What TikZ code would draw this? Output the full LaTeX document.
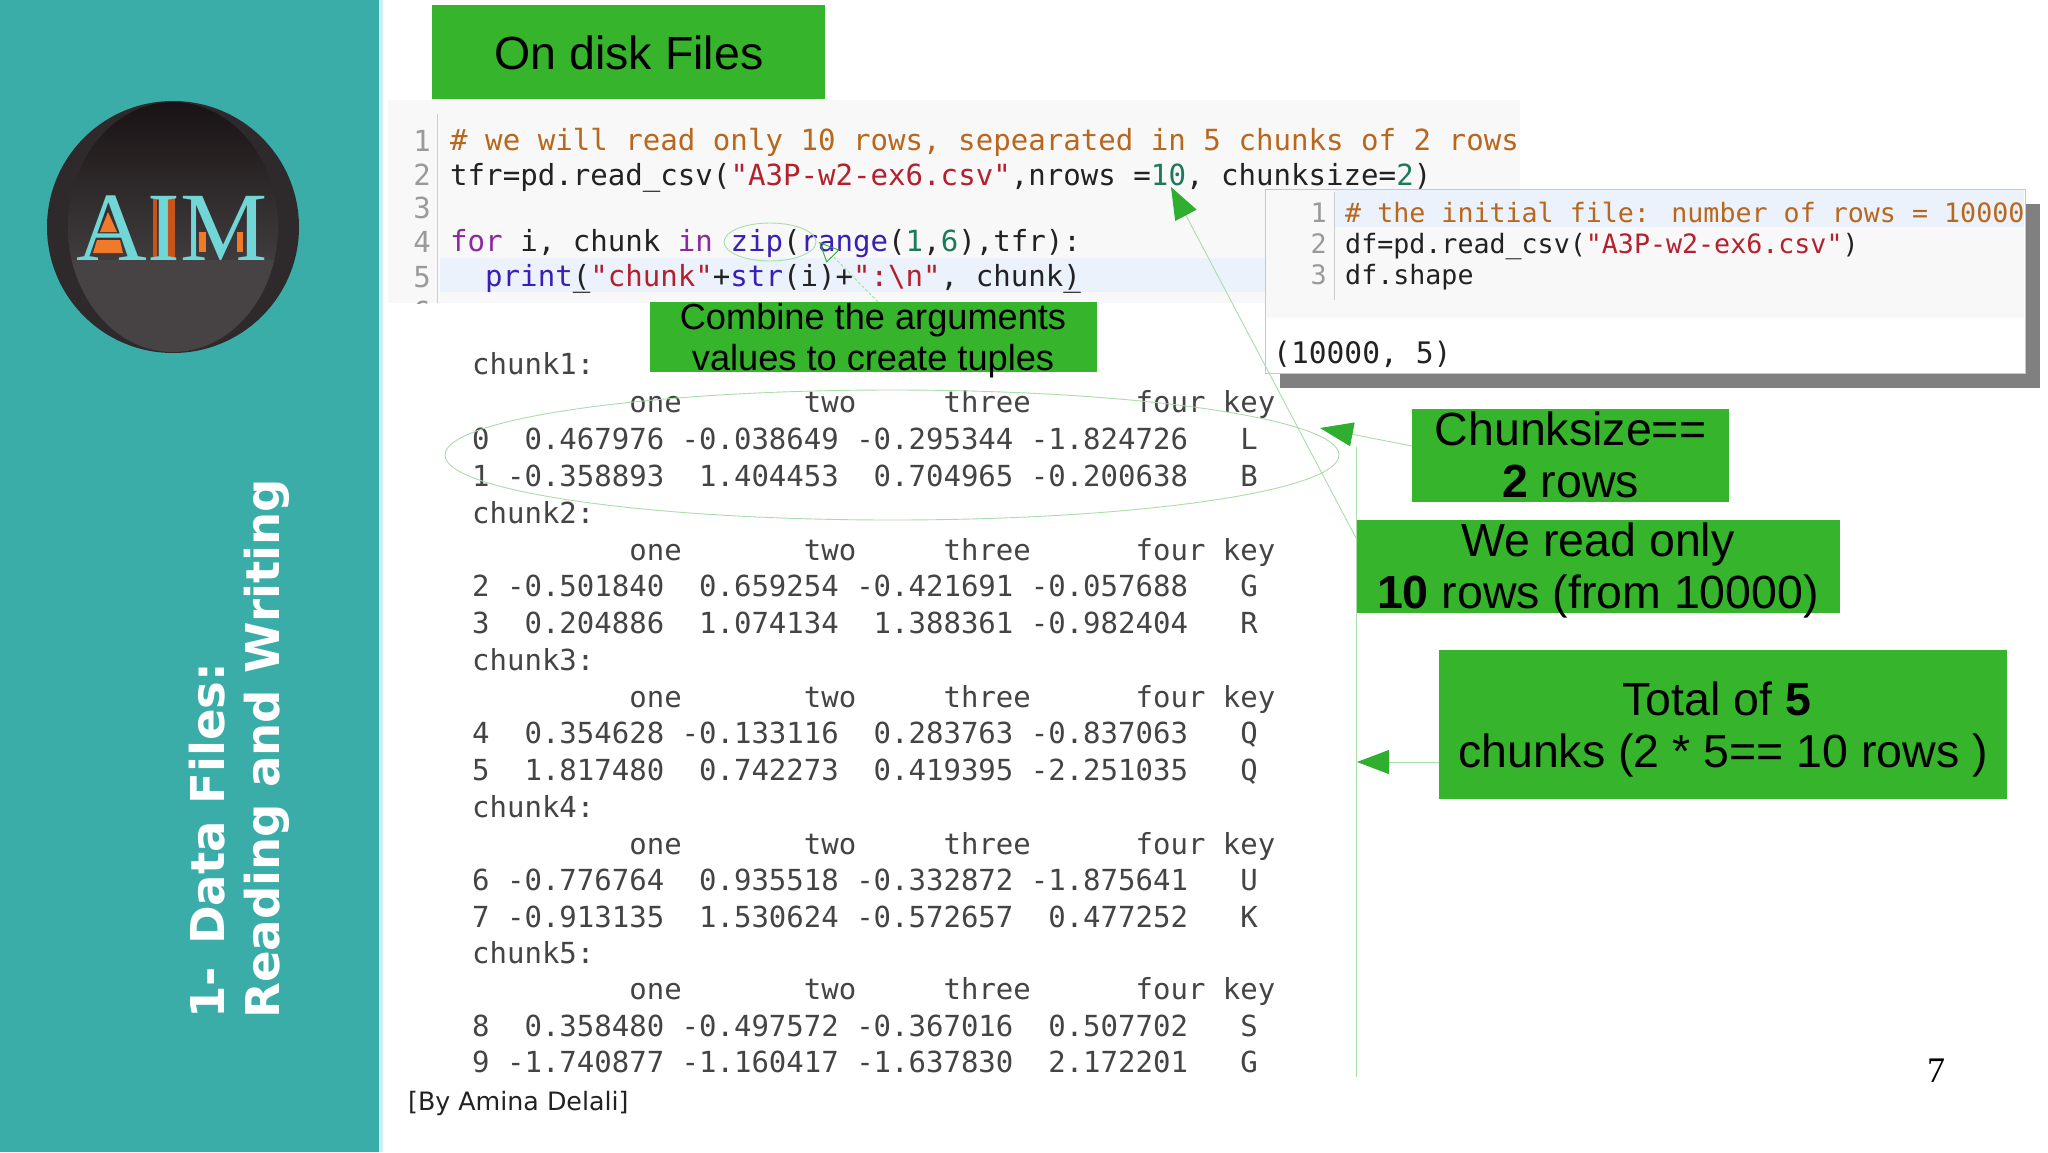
\documentclass[tikz,border=0pt]{standalone}
\usepackage{fontspec}
\usetikzlibrary{arrows.meta}
\setmainfont{Liberation Sans}
\newfontfamily\dvsans{DejaVu Sans}
\newfontfamily\dvmono{DejaVu Sans Mono}
\newfontfamily\lserif{Liberation Serif}
\definecolor{teal1}{HTML}{3AADA8}
\definecolor{strip}{HTML}{CDEFEF}
\definecolor{boxgreen}{HTML}{35B42C}
\definecolor{tipgreen}{HTML}{2FAE2F}
\definecolor{linegreen}{HTML}{A9DDA9}
\definecolor{codebg}{HTML}{F8F8F8}
\definecolor{hl}{HTML}{EBF2FC}
\definecolor{cmt}{HTML}{B8671C}
\definecolor{str}{HTML}{B5202E}
\definecolor{kw}{HTML}{8A2A9E}
\definecolor{fn}{HTML}{3A1FB5}
\definecolor{num}{HTML}{1C7A5A}
\definecolor{lnum}{HTML}{9A9A9A}
\definecolor{codeblk}{HTML}{222222}
\definecolor{outtxt}{HTML}{444444}
\definecolor{logoring}{HTML}{2E2A2B}
\definecolor{logotop}{HTML}{191214}
\definecolor{logomid}{HTML}{403C3D}
\definecolor{logolow}{HTML}{474344}
\definecolor{logotxt}{HTML}{70D6D6}
\definecolor{logoor}{HTML}{F07A2A}
\definecolor{logoorb}{HTML}{C9541A}
\newcommand{\cm}[1]{\textcolor{cmt}{#1}}
\newcommand{\st}[1]{\textcolor{str}{#1}}
\newcommand{\kwd}[1]{\textcolor{kw}{#1}}
\newcommand{\fnc}[1]{\textcolor{fn}{#1}}
\newcommand{\nm}[1]{\textcolor{num}{#1}}
\newcommand{\ul}[1]{\makebox[0pt][l]{\_}#1}
\tikzset{
 x=1pt,y=-1pt,
 code/.style={anchor=base west,inner sep=0pt,text=codeblk,font=\dvmono\fontsize{29.1}{32}\selectfont},
 codes/.style={anchor=base west,inner sep=0pt,text=codeblk,font=\dvmono\fontsize{26.65}{30}\selectfont},
 lineno/.style={anchor=base east,inner sep=0pt,text=lnum,font=\dvmono\fontsize{29}{32}\selectfont},
 linenos/.style={anchor=base east,inner sep=0pt,text=lnum,font=\dvmono\fontsize{26.8}{30}\selectfont},
 outrow/.style={anchor=base west,inner sep=0pt,text=outtxt,font=\dvmono\fontsize{29}{32}\selectfont},
 thinlink/.style={draw=linegreen,line width=0.9pt},
 solidtip/.style={thinlink,-{Triangle[length=#1,width=24pt,color=tipgreen,fill=tipgreen]}},
 sidetitle/.style={rotate=90,anchor=base west,inner sep=0pt,text=white,font=\dvsans\bfseries\fontsize{46.6}{50}\selectfont},
 bigtxt/.style={inner sep=0pt,text=black,font=\fontsize{46.5}{50}\selectfont,anchor=base},
 midtxt/.style={inner sep=0pt,text=black,font=\fontsize{36.2}{40}\selectfont,anchor=base},
}
\begin{document}
\begin{tikzpicture}
\useasboundingbox (0,0) rectangle (2048,1152);
\fill[white] (0,0) rectangle (2048,1152);
% side panel
\fill[teal1] (0,0) rectangle (379,1152);
\fill[strip] (379,0) rectangle (383,1152);
% logo
\fill[logoring] (173,227) circle[radius=126];
\begin{scope}
\clip (173,227) ellipse[x radius=105,y radius=125];
\shade[top color=logotop,bottom color=logomid] (60,100) rectangle (290,260);
\fill[logolow] (60,260) rectangle (290,355);
\end{scope}
\fill[logoor] (108,212) -- (100,232) -- (117,232) -- cycle;
\fill[logoor] (97,240) -- (120,240) -- (123,253) -- (93,253) -- cycle;
\fill[logoorb] (153,198) rectangle (157,257);
\fill[logoorb] (168,198) rectangle (175,257);
\fill[logoor] (199,232) rectangle (206,252);
\fill[logoor] (237,232) rectangle (243,252);
\node[anchor=base,inner sep=0pt,text=logotxt,font=\lserif\fontsize{98}{100}\selectfont] (aim) at (172,260) {AIM};
\node[sidetitle] (title1) at (224,1019) {1-\hspace{6pt} Data Files:};
\node[sidetitle] (title2) at (279,1019) {Reading and Writing};
% main code cell
\fill[codebg] (388,100) rectangle (1520,303);
\fill[hl] (440,258) rectangle (1520,292);
\draw[lnum!50!white,line width=0.8pt] (437,114) -- (437,303);
\node[lineno] (n1) at (431,151) {1};
\node[lineno] (n2) at (431,185) {2};
\node[lineno] (n3) at (431,218) {3};
\node[lineno] (n4) at (431,252) {4};
\node[lineno] (n5) at (431,287) {5};
\begin{scope}
\clip (388,100) rectangle (1520,303);
\node[lineno] (n6) at (431,322) {6};
\end{scope}
\node[code] (c1) at (450,150) {\cm{\# we will read only 10 rows, sepearated in 5 chunks of 2 rows}};
\node[code] (c2) at (450,185) {tfr=pd.read\_csv(\st{"A3P-w2-ex6.csv"},nrows =\nm{10}, chunksize=\nm{2})};
\node[code] (c4) at (450,251) {\kwd{for} i, chunk \kwd{in} \fnc{zip}(\fnc{range}(\nm{1},\nm{6}),tfr):};
\node[code] (c5) at (485,286) {\fnc{print}\ul{(}\st{"chunk"}+\fnc{str}(i)+\st{":\textbackslash n"}, chunk\ul{)}};
% inset shadow and panel
\fill[black!50!white] (1280,204) rectangle (2040,388);
\node[draw=linegreen,fill=white,line width=0.9pt,minimum width=760pt,minimum height=184pt,inner sep=0pt,anchor=north west] (panel) at (1265,189) {};
\fill[codebg] (1266,190) rectangle (2024,318);
\fill[hl] (1335,190) rectangle (2024,227);
\draw[lnum!50!white,line width=0.8pt] (1334,192) -- (1334,300);
\node[linenos] (m1) at (1327,222) {1};
\node[linenos] (m2) at (1327,253) {2};
\node[linenos] (m3) at (1327,284) {3};
\node[codes] (d1) at (1345,222) {\cm{\# the initial file: number of rows = 10000}};
\node[codes] (d2) at (1345,253) {df=pd.read\_csv(\st{"A3P-w2-ex6.csv"})};
\node[codes] (d3) at (1345,284) {df.shape};
\node[outrow,text=codeblk,font=\dvmono\fontsize{29.6}{32}\selectfont] (dout) at (1273,363) {(10000, 5)};
% output table
\foreach \i/\yy/\txt in {
 1/374/chunk1:,
 2/412/~~~~~~~~~one~~~~~~~two~~~~~three~~~~~~four~key,
 3/449/0~~0.467976~-0.038649~-0.295344~-1.824726~~~L,
 4/486/1~-0.358893~~1.404453~~0.704965~-0.200638~~~B,
 5/523/chunk2:,
 6/560/~~~~~~~~~one~~~~~~~two~~~~~three~~~~~~four~key,
 7/596/2~-0.501840~~0.659254~-0.421691~-0.057688~~~G,
 8/633/3~~0.204886~~1.074134~~1.388361~-0.982404~~~R,
 9/670/chunk3:,
 10/707/~~~~~~~~~one~~~~~~~two~~~~~three~~~~~~four~key,
 11/743/4~~0.354628~-0.133116~~0.283763~-0.837063~~~Q,
 12/780/5~~1.817480~~0.742273~~0.419395~-2.251035~~~Q,
 13/817/chunk4:,
 14/854/~~~~~~~~~one~~~~~~~two~~~~~three~~~~~~four~key,
 15/890/6~-0.776764~~0.935518~-0.332872~-1.875641~~~U,
 16/927/7~-0.913135~~1.530624~-0.572657~~0.477252~~~K,
 17/963/chunk5:,
 18/999/~~~~~~~~~one~~~~~~~two~~~~~three~~~~~~four~key,
 19/1036/8~~0.358480~-0.497572~-0.367016~~0.507702~~~S,
 20/1072/9~-1.740877~-1.160417~-1.637830~~2.172201~~~G}
 {\node[outrow] (row\i) at (472,\yy) {\txt};}
\node[anchor=base west,inner sep=0pt,text=codeblk,font=\dvsans\fontsize{25.3}{28}\selectfont] (credit) at (408,1110) {[By Amina Delali]};
\node[anchor=base,inner sep=0pt,text=black,font=\lserif\fontsize{36}{40}\selectfont] (pagenum) at (1936,1082) {7};
% ellipses
\draw[linegreen,line width=0.9pt] (892,455) ellipse[x radius=447,y radius=65];
\draw[linegreen,line width=0.9pt] (770,242) ellipse[x radius=46,y radius=19];
% green boxes
\fill[boxgreen] (432,5) rectangle (825,99);
\node[bigtxt] (ondisk) at (629,69) {On disk Files};
\fill[boxgreen] (650,302) rectangle (1097,372);
\node[midtxt] (comb1) at (873,329) {Combine the arguments};
\node[midtxt] (comb2) at (873,370) {values to create tuples};
\coordinate (combtop) at (878,302);
\coordinate (ziptip) at (819,242);
\draw[thinlink,densely dashed,-{Triangle[open,length=20pt,width=18pt,color=tipgreen]}] (combtop) -- (ziptip);
\fill[boxgreen] (1412,409) rectangle (1729,502);
\node[bigtxt] (cs1) at (1570.5,445) {Chunksize==};
\node[bigtxt] (cs2) at (1570.5,497) {\textbf{2} rows};
\fill[boxgreen] (1356,520) rectangle (1840,613);
\node[bigtxt] (wr1) at (1598,556) {We read only};
\node[bigtxt] (wr2) at (1598,608) {\textbf{10} rows (from 10000)};
\fill[boxgreen] (1439,650) rectangle (2007,799);
\node[bigtxt] (tot1) at (1717,715) {Total of \textbf{5}};
\node[bigtxt] (tot2) at (1723,767) {chunks (2 * 5== 10 rows )};
% connectors
\coordinate (vtop) at (1356,447);
\coordinate (vbot) at (1356,1077);
\coordinate (wrsrc) at (1356,538);
\coordinate (tentip) at (1171,187);
\coordinate (cssrc) at (1412,446);
\coordinate (cstip) at (1320,428);
\coordinate (totsrc) at (1439,762);
\coordinate (tottip) at (1357,762);
\draw[thinlink] (vtop) -- (vbot);
\draw[solidtip=32pt] (wrsrc) -- (tentip);
\draw[solidtip=33pt] (cssrc) -- (cstip);
\draw[solidtip=32pt] (totsrc) -- (tottip);
\end{tikzpicture}
\end{document}
